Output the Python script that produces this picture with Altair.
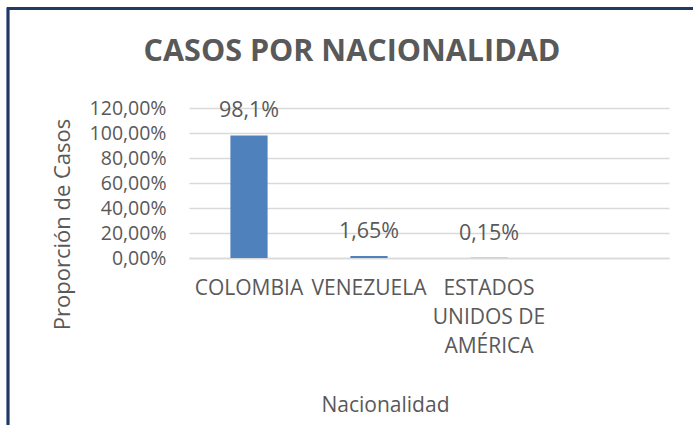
import altair as alt
import pandas as pd

# ---- data ----
categories = ["COLOMBIA", "VENEZUELA", "ESTADOS UNIDOS DE AMÉRICA"]
proportions = [0.981, 0.0165, 0.0015]
x_domain = ["COLOMBIA", "VENEZUELA", "ESTADOS UNIDOS DE AMÉRICA", " "]
y_ticks = [0, 0.2, 0.4, 0.6, 0.8, 1.0, 1.2]

df = pd.DataFrame({"Nacionalidad": categories, "Proporcion": proportions})

FONT = "Open Sans"
TXT = "#595959"
GRID = "#D9D9D9"
BAR = "#4F81BD"
BORDER = "#1F3864"

PLOT_W, PLOT_H = 480, 150
PAD_L, PAD_T = 189, 108

x_enc = alt.X(
    "Nacionalidad:N",
    scale=alt.Scale(domain=x_domain, paddingInner=0.69, paddingOuter=0.345),
    axis=alt.Axis(
        title="Nacionalidad",
        labelAngle=0,
        labelExpr="datum.value == 'ESTADOS UNIDOS DE AMÉRICA' ? ['ESTADOS', 'UNIDOS DE', 'AMÉRICA'] : datum.value",
        labelLineHeight=29,
        labelPadding=19,
        labelFontSize=21,
        labelColor=TXT,
        labelFont=FONT,
        labelBaseline="top",
        labelOverlap=False,
        ticks=False,
        domainColor=GRID,
        domainWidth=1.5,
        titleFontSize=21,
        titleFont=FONT,
        titleFontWeight="normal",
        titleColor=TXT,
        titleX=196,
        titleY=147,
        titleAlign="center",
        titleBaseline="middle",
    ),
)

y_enc = alt.Y(
    "Proporcion:Q",
    scale=alt.Scale(domain=[0, 1.2], nice=False),
    axis=alt.Axis(
        title="Proporción de Casos",
        values=y_ticks,
        tickCount=len(y_ticks),
        labelExpr="replace(format(datum.value, '.2%'), '.', ',')",
        labelFontSize=19.5,
        labelFont=FONT,
        labelColor=TXT,
        labelPadding=23,
        labelOverlap=False,
        ticks=False,
        domain=False,
        gridColor=GRID,
        gridWidth=1.5,
        titleFontSize=22,
        titleFont=FONT,
        titleFontWeight="normal",
        titleColor=TXT,
        titleAngle=270,
        titleX=-127,
        titleY=116,
        titleAlign="center",
        titleBaseline="middle",
    ),
)

bars = alt.Chart(df).mark_bar(color=BAR).encode(x=x_enc, y=y_enc)

labels = (
    alt.Chart(df)
    .transform_calculate(lbl="replace(format(datum.Proporcion, '.3~%'), '.', ',')")
    .mark_text(font=FONT, fontSize=21.5, color=TXT, baseline="middle", dy=-24)
    .encode(x=alt.X("Nacionalidad:N", scale=alt.Scale(domain=x_domain)), y="Proporcion:Q", text="lbl:N")
)

border_top = alt.Chart(df).mark_rule(color=BORDER, strokeWidth=2.5).encode(
    x=alt.value(-PAD_L + 7), x2=alt.value(693 - PAD_L), y=alt.value(-PAD_T + 8.5)
)
border_left = alt.Chart(df).mark_rule(color=BORDER, strokeWidth=2.5).encode(
    x=alt.value(-PAD_L + 8), y=alt.value(-PAD_T + 7.5), y2=alt.value(425 - PAD_T)
)

chart = (
    alt.layer(bars, labels, border_top, border_left)
    .properties(
        width=PLOT_W,
        height=PLOT_H,
        title=alt.TitleParams(
            "CASOS POR NACIONALIDAD",
            font=FONT,
            fontSize=30.5,
            fontWeight="bold",
            color=TXT,
            anchor="middle",
            baseline="middle",
            dx=-77,
            dy=76,
            offset=0,
        ),
        padding={"left": PAD_L, "top": PAD_T, "right": 693 - PAD_L - PLOT_W, "bottom": 425 - PAD_T - PLOT_H},
        autosize=alt.AutoSizeParams(type="none"),
        background="white",
    )
    .configure_view(stroke=None)
)

chart.save("out.html", embed_options={"renderer": "svg", "actions": False})
